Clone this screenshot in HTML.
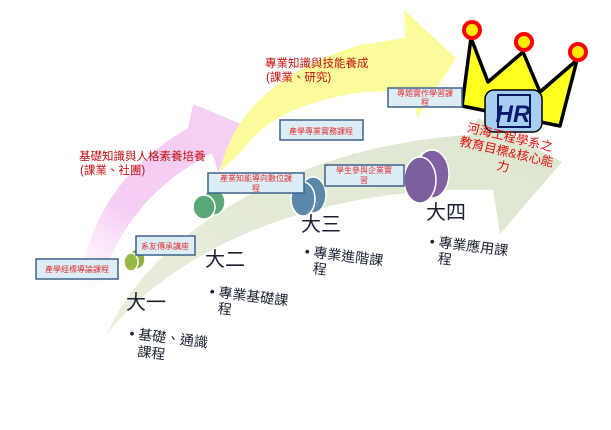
<!DOCTYPE html>
<html><head><meta charset="utf-8"><style>
html,body{margin:0;padding:0;background:#fff;}
svg text{font-family:"Liberation Sans","Noto Sans CJK TC",sans-serif;}
</style></head><body>
<svg width="611" height="425" viewBox="0 0 611 425" xmlns="http://www.w3.org/2000/svg">
<defs>
<linearGradient id="pk" x1="0" y1="1" x2="0.6" y2="0"><stop offset="0" stop-color="#fff" stop-opacity="0.6"/><stop offset="0.45" stop-color="#f6cdf4"/><stop offset="1" stop-color="#f5cff4"/></linearGradient>
<linearGradient id="gr" x1="0" y1="1" x2="1" y2="0"><stop offset="0" stop-color="#e9eedc"/><stop offset="1" stop-color="#dde6cf"/></linearGradient>
</defs>
<!-- pink arrow -->
<path d="M78,292 C88,215 125,165 188,128 L193,104 L241,124 L218,172 L212,153 C165,178 122,215 100,285 Z" fill="url(#pk)"/>
<!-- yellow arrow -->
<path d="M220,172 C230,118 275,70 360,45 L405,38 L404,10 L456,58 L417,118 L415,90 L365,92 C300,100 262,122 243,150 Z" fill="#fbfb9c"/>
<!-- green arrow -->
<path d="M106,337 C150,230 300,145 470,135 L478,118 L562,162 L500,234 L493,190 C340,185 190,235 110,330 Z" fill="url(#gr)"/>
<!-- cylinders -->
<g stroke="#fff" stroke-width="1.5">
<ellipse cx="137" cy="259" rx="8" ry="10" fill="#90b040"/><ellipse cx="131" cy="262" rx="7" ry="9" fill="#98b848"/>
<ellipse cx="214" cy="202" rx="11" ry="13" fill="#5aa878"/><ellipse cx="204" cy="207" rx="11" ry="12" fill="#5aa878"/>
<ellipse cx="313" cy="195" rx="13" ry="18" fill="#5a88a8"/><ellipse cx="303" cy="199" rx="12" ry="17" fill="#5a88a8"/>
<ellipse cx="432" cy="174" rx="17" ry="24" fill="#8060a0"/><ellipse cx="420" cy="180" rx="16" ry="23" fill="#7d5f9e"/>
</g>
<!-- crown -->
<polygon points="471,38 488,82 523,52 540,92 577,60 560,126 462,106" fill="#ffff20" stroke="#000" stroke-width="3.5" stroke-linejoin="round"/>
<g stroke="#f00" stroke-width="4" fill="#ffee00"><circle cx="472" cy="30" r="8"/><circle cx="524" cy="42" r="8"/><circle cx="578" cy="52" r="8"/></g>
<rect x="485" y="90" width="57" height="42" rx="9" fill="#a7cdf0" stroke="#000" stroke-width="1.5"/>
<rect x="498" y="95" width="32" height="32" fill="none" stroke="#0a1a60" stroke-width="2"/>
<text x="513" y="122" font-size="24" font-weight="bold" font-style="italic" fill="#0a1a70" text-anchor="middle">HR</text>
<g transform="rotate(13 510 155)" fill="#e01010" font-size="12.5" text-anchor="middle">
<text x="506" y="142">河海工程學系之</text><text x="506" y="157">教育目標&amp;核心能</text><text x="506" y="172">力</text></g>
<!-- red labels -->
<g fill="#c01010" font-size="11.5">
<text x="265" y="67">專業知識與技能養成</text><text x="266" y="81">(課業、研究)</text>
<text x="79" y="160">基礎知識與人格素養培養</text><text x="80" y="174">(課業、社團)</text></g>
<!-- boxes -->
<g fill="#dcedf6" stroke="#3f618c" stroke-width="1.5">
<rect x="388" y="88" width="74" height="19"/><rect x="280" y="120" width="83" height="20"/>
<rect x="208" y="173" width="96" height="20"/><rect x="325" y="165" width="79" height="21"/>
<rect x="136" y="236" width="59" height="19"/><rect x="36" y="259" width="82" height="20"/></g>
<g fill="#e03030" font-size="8" text-anchor="middle">
<text x="425" y="96">專題實作學習課</text><text x="425" y="105">程</text>
<text x="321" y="134">產學專業實務課程</text>
<text x="256" y="181">產業知能導向數位課</text><text x="256" y="191">程</text>
<text x="364" y="173">學生參與企業實</text><text x="364" y="183">習</text>
<text x="165" y="249">系友傳承講座</text>
<text x="77" y="272">產學經標導論課程</text></g>
<!-- year labels -->
<g fill="#1a2030" font-size="20">
<text x="126" y="309">大一</text><text x="205" y="266">大二</text><text x="301" y="231">大三</text><text x="426" y="219">大四</text></g>
<g fill="#1a2030" font-size="14">
<g transform="rotate(7 130 330)"><text x="130" y="338">• 基礎、通識</text><text x="140" y="355">課程</text></g>
<g transform="rotate(7 210 290)"><text x="210" y="296">• 專業基礎課</text><text x="220" y="312">程</text></g>
<g transform="rotate(7 305 250)"><text x="305" y="256">• 專業進階課</text><text x="315" y="272">程</text></g>
<g transform="rotate(7 430 240)"><text x="430" y="246">• 專業應用課</text><text x="440" y="262">程</text></g>
</g>
</svg>
</body></html>
